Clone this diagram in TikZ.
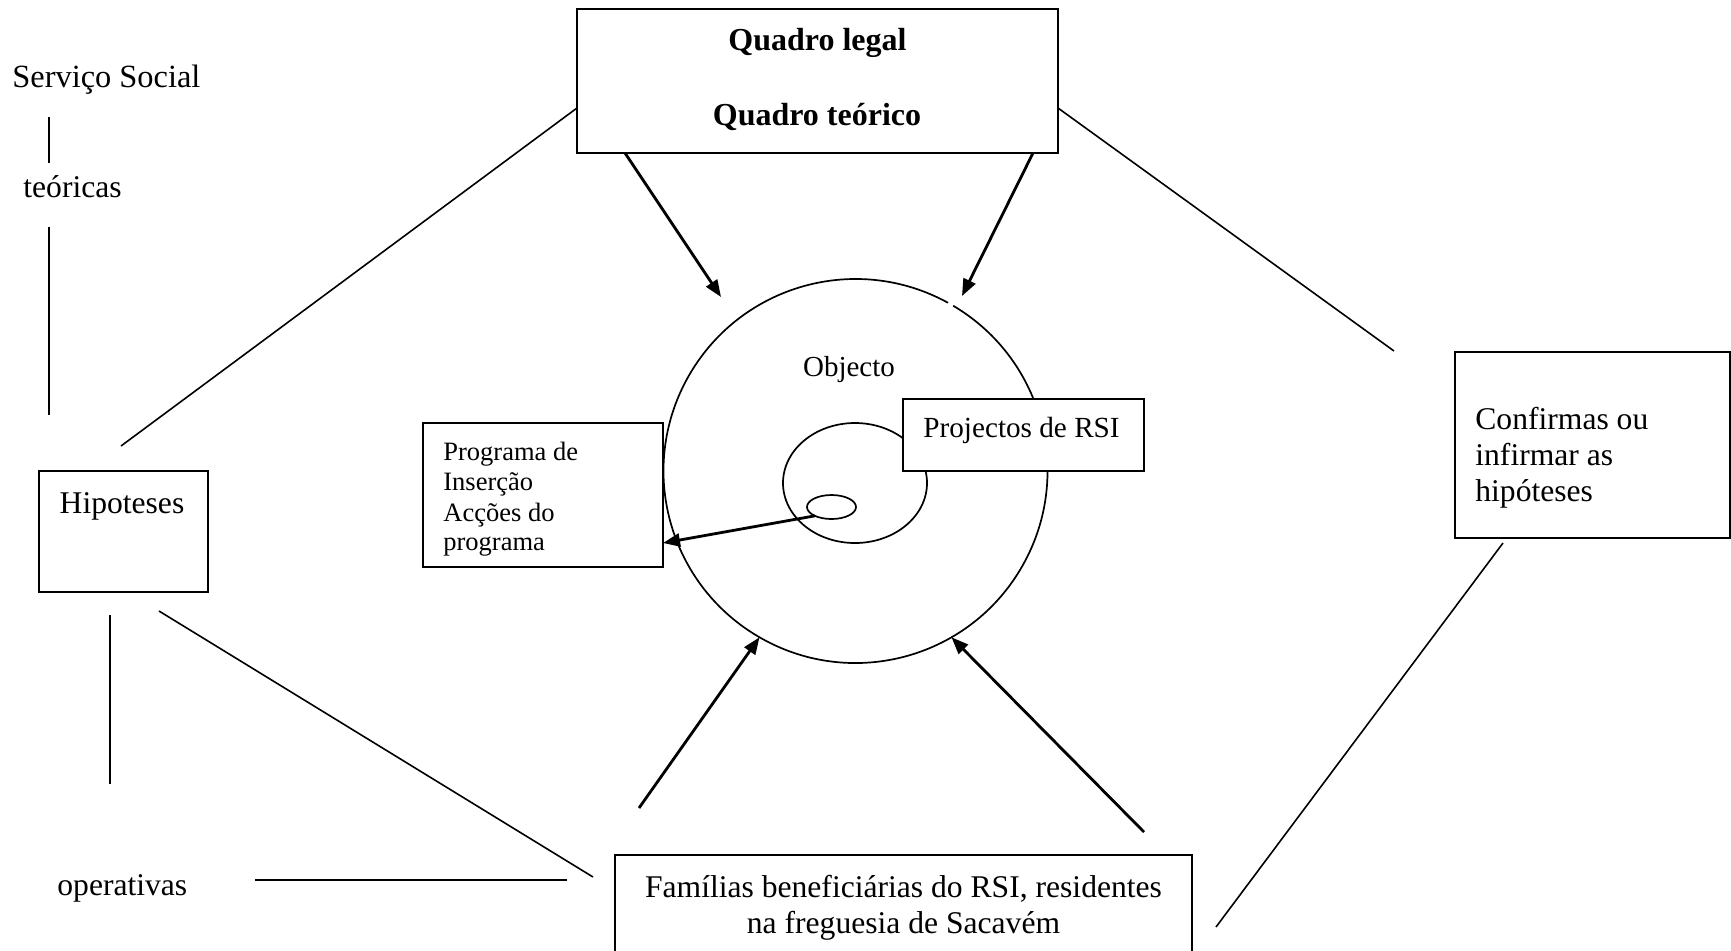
\documentclass[tikz,border=0pt]{standalone}
\usepackage{fontspec}
\setmainfont{Liberation Serif}
\usetikzlibrary{arrows.meta,calc,shapes.geometric}
\begin{document}
\begin{tikzpicture}[x=0.5pt,y=-0.5pt,
  box/.style={draw, line width=1pt, fill=white, inner sep=0pt, outer sep=0pt, rectangle},
  txt/.style={inner sep=0pt, font=\fontsize{15.8}{18}\selectfont},
  ln/.style={line width=0.8pt},
  arr/.style={line width=1.4pt, -{Triangle[length=8.5pt,width=6.5pt]}},
]
\useasboundingbox (0,0) rectangle (1731,950);

% outer circle (with the small gap at the top right)
\node[circle, minimum size=192pt, inner sep=0pt, outer sep=0pt] (obj) at (855.5,471) {};
\draw[line width=0.85pt] ($(obj.center)+(-59.4:192)$) arc[start angle=-59.4, end angle=298.8, radius=192];
\node[ellipse, draw, line width=0.85pt, minimum width=72pt, minimum height=60pt, inner sep=0pt, outer sep=0pt] (inner) at (855,483) {};
\node[ellipse, draw, line width=0.85pt, minimum width=24.5pt, minimum height=12pt, inner sep=0pt, outer sep=0pt] (small) at (831.5,507) {};

% boxes
\node[box, minimum width=240.5pt, minimum height=72pt] (quadro) at (817.5,81) {};
\node[box, minimum width=84.5pt, minimum height=60.5pt] (hip) at (123.5,531.5) {};
\node[box, minimum width=137.25pt, minimum height=93.25pt] (conf) at (1592.25,444.75) {};
\node[box, minimum width=120pt, minimum height=72pt] (prog) at (543,495) {};
\node[box, minimum width=120.5pt, minimum height=36pt] (proj) at (1023.5,435) {};
\node[box, minimum width=288.5pt, minimum height=50.5pt] (fam) at (903.5,905.5) {};

% texts
\node[txt, anchor=base, font=\bfseries\fontsize{16}{18}\selectfont] (ql) at (817.5,50) {Quadro legal};
\node[txt, anchor=base, font=\bfseries\fontsize{16}{18}\selectfont] (qt) at (817,125) {Quadro teórico};
\node[txt, anchor=base west, font=\fontsize{16.2}{19}\selectfont] (ss) at (12,87) {Serviço Social};
\node[txt, anchor=base west] (teor) at (23,197) {teóricas};
\node[txt, anchor=base] (hipt) at (122,513) {Hipoteses};
\node[txt, anchor=base west] (oper) at (57,895) {operativas};
\node[txt, anchor=base, font=\fontsize{14.5}{17}\selectfont] (objt) at (849,376) {Objecto};
\node[txt, anchor=base west, font=\fontsize{14.6}{17}\selectfont] (projt) at (923,437) {Projectos de RSI};
\node[txt, anchor=base west, font=\fontsize{13.25}{15}\selectfont] (p1) at (443,460) {Programa de};
\node[txt, anchor=base west, font=\fontsize{13.25}{15}\selectfont] (p2) at (443,490) {Inserção};
\node[txt, anchor=base west, font=\fontsize{13.25}{15}\selectfont] (p3) at (443,521) {Acções do};
\node[txt, anchor=base west, font=\fontsize{13.25}{15}\selectfont] (p4) at (443,550) {programa};
\node[txt, anchor=base west] (c1) at (1475,429) {Confirmas ou};
\node[txt, anchor=base west] (c2) at (1475,465) {infirmar as};
\node[txt, anchor=base west] (c3) at (1475,501) {hipóteses};
\node[txt, anchor=base] (f1) at (903.5,897) {Famílias beneficiárias do RSI, residentes};
\node[txt, anchor=base] (f2) at (903.5,933) {na freguesia de Sacavém};

% free ends
\coordinate (a1) at (121,446);
\coordinate (a2) at (1394,351);
\coordinate (a3) at (1503,543);
\coordinate (a4) at (1216,927);
\coordinate (s1) at (49,117);
\coordinate (s2) at (49,163);
\coordinate (s3) at (49,227);
\coordinate (s4) at (49,415);
\coordinate (b1) at (110,615);
\coordinate (b2) at (110,784);
\coordinate (b3) at (159,611);
\coordinate (b4) at (593,877);
\coordinate (b5) at (255,880);
\coordinate (b6) at (567,880);
\coordinate (t1) at (721,297);
\coordinate (t2) at (962,296);
\coordinate (u1) at (639,808);
\coordinate (u2) at (1144,832);

% lines
\draw[ln] (a1) -- ($(quadro.west)+(0,27)$);
\draw[ln] ($(quadro.east)+(0,27)$) -- (a2);
\draw[ln] (a3) -- (a4);
\draw[ln] (s1) -- (s2);
\draw[ln] (s3) -- (s4);
\draw[ln] (b1) -- (b2);
\draw[ln] (b3) -- (b4);
\draw[ln] (b5) -- (b6);

% arrows
\draw[arr] ($(quadro.south west)+(48,0)$) -- (t1);
\draw[arr] ($(quadro.south east)+(-25,0)$) -- (t2);
\draw[arr] (u1) -- (obj.-120);
\draw[arr] (u2) -- (obj.-60);
\draw[arr] (small.208) -- ($(prog.east)+(0,48)$);
\end{tikzpicture}
\end{document}
